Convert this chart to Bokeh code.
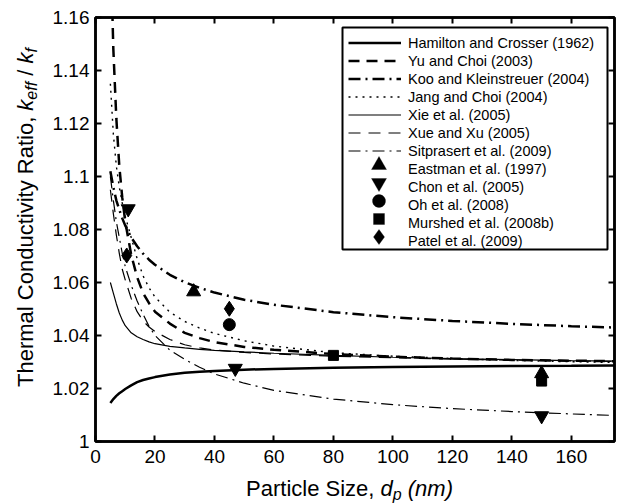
from math import pi, cos, sin
from bokeh.plotting import figure
from bokeh.layouts import row, column
from bokeh.models import (Range1d, FixedTicker, LinearAxis, Legend, LegendItem,
                          Label, CustomJSTickFormatter, BoxAnnotation, PolyAnnotation)
from bokeh.embed import file_html
from bokeh.resources import INLINE

# ---------------- data ----------------
d_nm = [5, 6, 7, 8, 9, 10, 12, 14, 16, 18, 20, 25, 30, 35, 40, 50, 60, 80, 100, 120, 140, 160, 175]

hamilton_crosser = [1.0145, 1.0160, 1.0172, 1.0182, 1.0190, 1.0198, 1.0212, 1.0224, 1.0232, 1.0238,
                    1.0243, 1.0253, 1.0259, 1.0263, 1.0266, 1.0271, 1.0274, 1.0278, 1.0281, 1.0283,
                    1.0285, 1.0286, 1.0287]
yu_choi = [1.190, 1.148, 1.122, 1.104, 1.092, 1.083, 1.0705, 1.062, 1.056, 1.0522,
           1.049, 1.0445, 1.041, 1.039, 1.0375, 1.0357, 1.0346, 1.0330, 1.0320, 1.0313,
           1.0308, 1.0305, 1.0303]
koo_kleinstreuer = [1.102, 1.096, 1.091, 1.0875, 1.0842, 1.0815, 1.077, 1.0737, 1.0709, 1.0686,
                    1.0667, 1.0629, 1.0601, 1.058, 1.0562, 1.0535, 1.0516, 1.0488, 1.0469, 1.0455,
                    1.0444, 1.0435, 1.0430]
jang_choi = [1.135, 1.116, 1.104, 1.096, 1.090, 1.085, 1.077, 1.069, 1.0625, 1.058,
             1.0545, 1.0488, 1.0453, 1.0428, 1.0408, 1.038, 1.036, 1.0335, 1.0322, 1.0313,
             1.0306, 1.0301, 1.0298]
xie = [1.0600, 1.0560, 1.0520, 1.0485, 1.0458, 1.0437, 1.0410, 1.0395, 1.0385, 1.0376,
       1.0369, 1.0359, 1.0353, 1.0348, 1.0344, 1.0338, 1.0333, 1.0325, 1.0318, 1.0313,
       1.0309, 1.0305, 1.0303]
xue_xu = [1.095, 1.086, 1.078, 1.071, 1.065, 1.061, 1.054, 1.049, 1.0455, 1.0432,
          1.0415, 1.0385, 1.0365, 1.0353, 1.0345, 1.0336, 1.0330, 1.0322, 1.0316, 1.0311,
          1.0307, 1.0304, 1.0302]
sitprasert = [1.100, 1.091, 1.083, 1.077, 1.071, 1.066, 1.059, 1.053, 1.048, 1.0435,
              1.040, 1.0345, 1.031, 1.028, 1.0255, 1.0220, 1.0193, 1.0160, 1.0139, 1.0124,
              1.0113, 1.0104, 1.0098]

eastman_x, eastman_y = [33, 150], [1.0565, 1.0256]
chon_x, chon_y = [11, 47, 150], [1.0878, 1.0276, 1.0097]
oh_x, oh_y = [45], [1.0441]
murshed_x, murshed_y = [80, 150], [1.0325, 1.0228]
patel_x, patel_y = [10.5, 45], [1.0702, 1.0501]

x_ticks = [0, 20, 40, 60, 80, 100, 120, 140, 160]
x_tick_labels = ["0", "20", "40", "60", "80", "100", "120", "140", "160"]
y_ticks = [1.0, 1.02, 1.04, 1.06, 1.08, 1.1, 1.12, 1.14, 1.16]
y_tick_labels = ["1", "1.02", "1.04", "1.06", "1.08", "1.1", "1.12", "1.14", "1.16"]

legend_labels = ["Hamilton and Crosser (1962)", "Yu and Choi (2003)", "Koo and Kleinstreuer (2004)",
                 "Jang and Choi (2004)", "Xie et al. (2005)", "Xue and Xu (2005)",
                 "Sitprasert et al. (2009)", "Eastman et al. (1997)", "Chon et al. (2005)",
                 "Oh et al. (2008)", "Murshed et al. (2008b)", "Patel et al. (2009)"]

FONT = "Liberation Sans"

# ---------------- main figure ----------------
p = figure(width=572, height=473, output_backend="svg", toolbar_location=None,
           x_range=Range1d(0, 174.5), y_range=Range1d(1.0, 1.16),
           min_border_left=50, min_border_right=3, min_border_top=17, min_border_bottom=32)
p.grid.visible = False
p.outline_line_color = "black"
p.outline_line_width = 2.5
p.background_fill_color = "white"
p.border_fill_color = "white"


def tick_fmt(ticks, labels):
    return CustomJSTickFormatter(args=dict(t=ticks, l=labels), code="""
        let best = 0; let bd = 1e9;
        for (let i = 0; i < t.length; i++) { const dd = Math.abs(t[i] - tick); if (dd < bd) { bd = dd; best = i; } }
        return l[best];
    """)


def style(ax, ticks, labels, show):
    ax.ticker = FixedTicker(ticks=ticks)
    ax.axis_line_color = "black"
    ax.axis_line_width = 2.5
    ax.major_tick_in = 6
    ax.major_tick_out = 0
    ax.major_tick_line_width = 2
    ax.major_tick_line_color = "black"
    ax.minor_tick_line_color = None
    ax.major_label_text_font = FONT
    ax.major_label_text_color = "black"
    if show:
        ax.formatter = tick_fmt(ticks, labels)
        ax.major_label_text_font_size = "19px"
    else:
        ax.formatter = CustomJSTickFormatter(code="return ''")
        ax.major_label_text_font_size = "0px"
        ax.major_label_standoff = 0
    ax.axis_label = None


style(p.xaxis[0], x_ticks, x_tick_labels, True)
p.xaxis[0].major_label_standoff = 8
style(p.yaxis[0], y_ticks, y_tick_labels, True)
p.yaxis[0].major_label_standoff = 6

top_ax = LinearAxis()
style(top_ax, x_ticks, x_tick_labels, False)
p.add_layout(top_ax, "above")
right_ax = LinearAxis()
style(right_ax, y_ticks, y_tick_labels, False)
p.add_layout(right_ax, "right")

# ---------------- curves ----------------
thick, thin = 2.5, 1.2
r_hc = p.line(d_nm, hamilton_crosser, line_color="black", line_width=thick)
r_yu = p.line(d_nm, yu_choi, line_color="black", line_width=thick, line_dash="11 7")
r_koo = p.line(d_nm, koo_kleinstreuer, line_color="black", line_width=thick, line_dash="12 5 2 5")
r_jang = p.line(d_nm, jang_choi, line_color="black", line_width=1.4, line_dash="2 5")
r_xie = p.line(d_nm, xie, line_color="black", line_width=thin)
r_xue = p.line(d_nm, xue_xu, line_color="black", line_width=thin, line_dash="12 8")
r_sit = p.line(d_nm, sitprasert, line_color="black", line_width=thin, line_dash="12 5 2 5")

r_east = p.scatter(eastman_x, eastman_y, marker="triangle", size=14, color="black")
r_chon = p.scatter(chon_x, chon_y, marker="inverted_triangle", size=14, color="black")
r_oh = p.scatter(oh_x, oh_y, marker="circle", size=12, color="black")
r_mur = p.scatter(murshed_x, murshed_y, marker="square", size=10, color="black")
r_pat = p.scatter(patel_x, patel_y, marker="diamond", size=15, color="black")

# an empty, invisible renderer: legend slot for the marker entries (keys drawn below at full size)
r_blank = p.line([], [], line_alpha=0.0)

# ---------------- legend ----------------
LG_X, LG_Y = 253, 192          # legend position (px from frame's bottom-left)
LG_PAD, LG_GW, LG_GH, LG_SP = 4, 53, 17, 1
n_items = len(legend_labels)
lg_h = n_items * LG_GH + (n_items - 1) * LG_SP + 2 * LG_PAD

# legend frame: white box with black border, drawn beneath the entries
p.add_layout(BoxAnnotation(left=247, right=512, top=LG_Y + lg_h - 1, bottom=LG_Y,
                           left_units="screen", right_units="screen",
                           top_units="screen", bottom_units="screen",
                           fill_color="white", fill_alpha=1.0,
                           line_color="black", line_width=2, line_alpha=1.0))

renderers = [r_hc, r_yu, r_koo, r_jang, r_xie, r_xue, r_sit] + [r_blank] * 5
legend = Legend(items=[LegendItem(label=lab, renderers=[r]) for lab, r in zip(legend_labels, renderers)],
                location=(LG_X, LG_Y), orientation="vertical",
                label_text_font=FONT, label_text_font_size="14.5px", label_text_color="black",
                glyph_width=LG_GW, glyph_height=LG_GH, label_height=LG_GH, label_standoff=7,
                spacing=LG_SP, padding=LG_PAD, margin=0,
                border_line_color=None, background_fill_alpha=0.0)
p.add_layout(legend, "center")

# full-size marker keys in the legend's glyph slots
mx = LG_X + LG_PAD + LG_GW / 2.0


def slot_y(i):
    return LG_Y + lg_h - LG_PAD - LG_GH / 2.0 - i * (LG_GH + LG_SP)


def key(xs, ys):
    p.add_layout(PolyAnnotation(xs=xs, ys=ys, xs_units="screen", ys_units="screen",
                                fill_color="black", fill_alpha=1.0, line_color="black",
                                line_width=1))


cy = slot_y(7)   # triangle up
key([mx - 7.5, mx + 7.5, mx], [cy - 4.5, cy - 4.5, cy + 8.5])
cy = slot_y(8)   # triangle down
key([mx - 7.5, mx + 7.5, mx], [cy + 4.5, cy + 4.5, cy - 8.5])
cy = slot_y(9)   # circle
key([mx + 6.5 * cos(2 * pi * k / 24) for k in range(24)],
    [cy + 6.5 * sin(2 * pi * k / 24) for k in range(24)])
cy = slot_y(10)  # square
key([mx - 5.5, mx + 5.5, mx + 5.5, mx - 5.5], [cy - 5.5, cy - 5.5, cy + 5.5, cy + 5.5])
cy = slot_y(11)  # diamond
key([mx - 5.5, mx, mx + 5.5, mx], [cy, cy - 7.5, cy, cy + 7.5])

# ---------------- axis titles (with sub-scripts) in side strips ----------------
W = {'T': 611, 'h': 556, 'e': 556, 'r': 333, 'm': 833, 'a': 556, 'l': 222, ' ': 278, 'C': 722,
     'o': 556, 'n': 556, 'd': 556, 'u': 556, 'c': 500, 't': 278, 'i': 222, 'v': 500, 'y': 500,
     'R': 722, ',': 278, 'k': 500, 'f': 278, '/': 278, 'P': 667, 'S': 667, 'z': 500, 'p': 556,
     '(': 333, ')': 333}


def tw(s, px):
    return sum(W[c] for c in s) / 1000.0 * px


LAB = 22
SUB = 16
SHIFT = 6
y_pieces = [("Thermal Conductivity Ratio, ", LAB, "normal", 0),
            ("k", LAB, "italic", 0), ("eff", SUB, "italic", 1),
            (" / ", LAB, "normal", 0), ("k", LAB, "italic", 0), ("f", SUB, "italic", 1)]
x_pieces = [("Particle Size, ", LAB, "normal", 0), ("d", LAB, "italic", 0),
            ("p", SUB, "italic", 1), (" (nm)", LAB, "italic", 0)]


def strip(w, h):
    f = figure(width=w, height=h, output_backend="svg", toolbar_location=None,
               x_range=Range1d(0, 1), y_range=Range1d(0, 1), min_border=0,
               x_axis_location=None, y_axis_location=None)
    f.grid.visible = False
    f.outline_line_color = None
    f.background_fill_color = "white"
    f.border_fill_color = "white"
    return f


yfig = strip(45, 473)
total = sum(tw(s, f) for s, f, _, _ in y_pieces)
pos = 224 - total / 2
for s, f, st, sub in y_pieces:
    lead = tw(s[:len(s) - len(s.lstrip(' '))], f)
    yfig.add_layout(Label(x=25 + (SHIFT if sub else 0), y=pos + lead, x_units="screen", y_units="screen",
                          text=s.strip(), angle=pi / 2, text_align="left", text_baseline="alphabetic",
                          text_font=FONT, text_font_size=f"{f}px", text_font_style=st,
                          text_color="black"))
    pos += tw(s, f)

xfig = strip(617, 30)
total = sum(tw(s, f) for s, f, _, _ in x_pieces)
pos = 349 - total / 2
for s, f, st, sub in x_pieces:
    lead = tw(s[:len(s) - len(s.lstrip(' '))], f)
    xfig.add_layout(Label(x=pos + lead, y=15 - (SHIFT if sub else 0), x_units="screen", y_units="screen",
                          text=s.strip(), text_align="left", text_baseline="alphabetic",
                          text_font=FONT, text_font_size=f"{f}px", text_font_style=st,
                          text_color="black"))
    pos += tw(s, f)

layout = column(row(yfig, p, spacing=0), xfig, spacing=0)
open("out.html", "w").write(file_html(layout, INLINE))
